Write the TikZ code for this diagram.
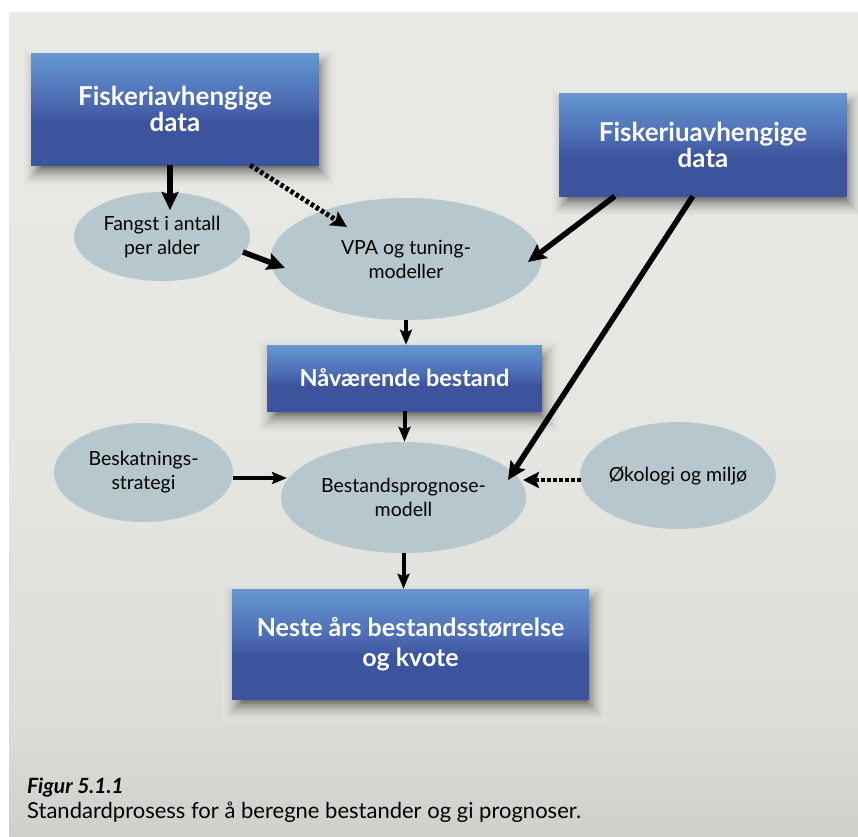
\documentclass[tikz,border=0pt]{standalone}
\usepackage{fontspec}
\setmainfont{Lato}
\usetikzlibrary{shapes.geometric,arrows.meta,calc}

\definecolor{lt}{HTML}{6598D0}
\definecolor{md}{HTML}{4C6BB3}
\definecolor{dk}{HTML}{3C539E}
\definecolor{ellfill}{HTML}{B6C8CD}
\definecolor{bgtop}{HTML}{E9E9E5}
\definecolor{bgmid}{HTML}{E6E6E2}
\definecolor{bglow}{HTML}{DCDCD8}
\definecolor{bgbot}{HTML}{CFCFCB}
\definecolor{bgb4}{HTML}{E2E2DE}

\pgfdeclareverticalshading{boxshade}{100bp}{color(0bp)=(dk); color(25bp)=(dk); color(44bp)=(dk); color(53bp)=(md); color(75bp)=(lt); color(100bp)=(lt)}
\pgfdeclareverticalshading{bgshade}{100bp}{color(0bp)=(bgbot); color(25bp)=(bgbot); color(32bp)=(bglow); color(50bp)=(bgmid); color(75bp)=(bgtop); color(100bp)=(bgtop)}

\pgfdeclarelayer{backlayer}
\pgfdeclarelayer{shadowlayer}
\pgfsetlayers{backlayer,shadowlayer,main}

\tikzset{
  bluebox/.style={rectangle, shade, shading=boxshade, text=white, align=center,
    inner sep=0pt, font=\bfseries},
  oval/.style={ellipse, fill=ellfill, inner sep=0pt, align=center,
    font=\fontsize{19.5}{24}\selectfont},
  bigarrow/.style={line width=5.5pt, -{Stealth[length=18pt, width=17pt, inset=3pt]}},
  midarrow/.style={line width=4pt, -{Stealth[length=15pt, width=12pt, inset=2.5pt]}},
  dotarrow/.style={line width=5pt, dash pattern=on 3.5pt off 2.5pt, -{Stealth[length=16pt, width=16pt, inset=3pt]}},
}

\begin{document}
\begin{tikzpicture}[x=1pt, y=-1pt]
  \useasboundingbox (0,0) rectangle (858,836);
  \begin{pgfonlayer}{backlayer}
    \fill[white] (0,0) rectangle (858,836);
    \shade[shading=bgshade] (9,12) rectangle (858,836);
  \end{pgfonlayer}

  % boxes
  \node[bluebox, minimum width=288pt, minimum height=112pt,
        font=\bfseries\fontsize{26}{26}\selectfont] (b1) at (175,109) {Fiskeriavhengige\\data};
  \node[bluebox, minimum width=288pt, minimum height=103pt,
        font=\bfseries\fontsize{26}{26}\selectfont] (b2) at (703,144.5) {Fiskeriuavhengige\\data};
  \node[bluebox, minimum width=275pt, minimum height=66pt,
        font=\bfseries\fontsize{23.5}{24}\selectfont] (b3) at (404.5,378) {Nåværende bestand};
  \node[bluebox, minimum width=357pt, minimum height=110pt,
        font=\bfseries\fontsize{25}{30}\selectfont] (b4) at (410.5,644) {Neste års bestandsstørrelse\\og kvote};

  % soft drop shadows behind the boxes (graded grey rectangles)
  \begin{pgfonlayer}{shadowlayer}
    \foreach \n/\c in {b1/bgtop, b2/bgtop, b3/bgmid, b4/bgb4}{
      \foreach \d [count=\k] in {14,12,...,-6}{
        \pgfmathsetmacro\p{0.4*\k*\k}
        \fill[black!\p!\c] ($(\n.north west)+(4-\d,9-\d)$) rectangle ($(\n.south east)+(4+\d,9+\d)$);
      }
    }
  \end{pgfonlayer}

  % ellipses
  \node[oval, minimum width=176pt, minimum height=89pt] (e1) at (162,236.5) {Fangst i antall\\per alder};
  \node[oval, minimum width=271pt, minimum height=122pt] (e2) at (406,259) {VPA og tuning-\\modeller};
  \node[oval, minimum width=179pt, minimum height=99pt] (e3) at (143.5,472.5) {Beskatnings-\\strategi};
  \node[oval, minimum width=245pt, minimum height=111pt] (e4) at (403.5,497.5) {Bestandsprognose-\\modell};
  \node[oval, minimum width=190pt, minimum height=107pt] (e5) at (678,475.5) {Økologi og miljø};

  % connectors
  \draw[bigarrow] ($(b1.south)+(-5,0)$) -- ($(e1.center)+(8,-26.5)$);
  \draw[dotarrow] ($(b1.south east)+(-69,0)$) -- ($(e2.center)+(-59,-32)$);
  \draw[bigarrow] ($(e1.center)+(81,15.5)$) -- ($(e2.center)+(-121,9)$);
  \draw[bigarrow] ($(b2.south west)+(56,0)$) -- ($(e2.center)+(122,3)$);
  \draw[bigarrow] ($(b2.south west)+(134,0)$) -- ($(e4.center)+(104.5,-17.5)$);
  \draw[midarrow] (e2.south) -- (e2.south |- b3.north);
  \draw[midarrow] (b3.south) -- (b3.south |- e4.north);
  \draw[midarrow] ($(e3.east)+(0,5.5)$) -- ($(e4.center)+(-116.5,-19.5)$);
  \draw[dotarrow, line width=4pt] ($(e5.west)+(1,4.5)$) -- ($(e4.center)+(119.5,-17.5)$);
  \draw[midarrow] (e4.south) -- (e4.south |- b4.north);

  % caption
  \node[anchor=base west, inner sep=0pt, font=\bfseries\itshape\fontsize{21}{24}\selectfont] (cap1) at (27,793) {Figur 5.1.1};
  \node[anchor=base west, inner sep=0pt, font=\fontsize{22}{24}\selectfont] (cap2) at (27,818) {Standardprosess for å beregne bestander og gi prognoser.};
\end{tikzpicture}
\end{document}
